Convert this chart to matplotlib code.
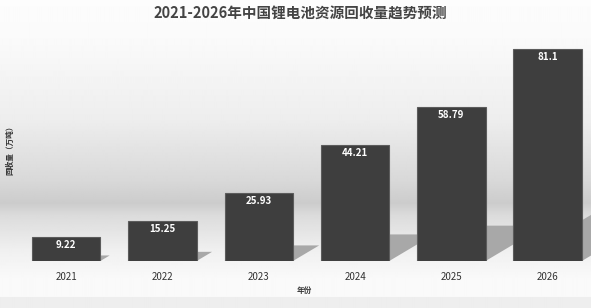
import numpy as np
import matplotlib
matplotlib.use('Agg')
import matplotlib.pyplot as plt
from matplotlib.patches import Polygon

plt.rcParams['font.family'] = ['Noto Sans CJK SC', 'DejaVu Sans']

years = ['2021', '2022', '2023', '2024', '2025', '2026']
values = [9.22, 15.25, 25.93, 44.21, 58.79, 81.1]
value_labels = ['9.22', '15.25', '25.93', '44.21', '58.79', '81.1']

W, H = 591, 308
fig = plt.figure(figsize=(W / 100, H / 100), dpi=100)

# background gradient (wall + floor + bottom strip)
bg = fig.add_axes([0, 0, 1, 1], zorder=0)
rows = np.arange(H)
shade = np.interp(rows, [0, 40, 120, 180, 203, 215, 250, 280, 296],
                  [0.99, 0.98, 0.93, 0.85, 0.80, 0.86, 0.94, 0.98, 0.98])
shade[297:] = 0.93
bg.imshow(np.tile(shade[:, None], (1, 10)), cmap='gray', vmin=0, vmax=1,
          aspect='auto', extent=[0, 1, 0, 1], interpolation='bilinear')
bg.axis('off')

ax = fig.add_axes([18 / W, 47 / H, (W - 18) / W, 222.2 / H], zorder=1)
ax.patch.set_alpha(0)
x = np.arange(len(years))
bw = 0.71

# shadows cast behind bars
for xi, v in zip(x, values):
    xl, xr = xi - bw / 2, xi + bw / 2
    d, hs = 0.0105 * v, 0.23 * v
    ax.add_patch(Polygon([(xl, 0), (xr, 0), (xr + d, hs), (xl + d, hs)],
                         closed=True, facecolor='#a8a8a8', edgecolor='none', zorder=1))

bars = ax.bar(x, values, width=bw, color='#3e3e3e', edgecolor='#5c5c5c',
              linewidth=0.8, zorder=2)
for xi, v, lab in zip(x, values, value_labels):
    ax.text(xi, v - 3.0, lab, ha='center', va='center', color='white',
            fontsize=7, fontweight='bold', zorder=3)

ax.set_xlim(-0.5, 5.45)
ax.set_ylim(0, 85)
ax.set_xticks(x)
ax.set_xticklabels(years, fontsize=7, color='#333333')
ax.tick_params(axis='x', length=0, pad=8)
ax.set_yticks([])
for s in ax.spines.values():
    s.set_visible(False)

fig.text(300 / W, 1 - 14 / H, '2021-2026年中国锂电池资源回收量趋势预测', ha='center',
         va='center', fontsize=10.5, fontweight='bold', color='#444444')
fig.text(10 / W, 1 - 148 / H, '回收量（万吨）', rotation=90, ha='center', va='center',
         fontsize=5.5, fontweight='bold', color='#333333')
fig.text(304 / W, 1 - 290 / H, '年份', ha='center', va='center',
         fontsize=5.5, fontweight='bold', color='#333333')

fig.savefig('out.png', dpi=100)
